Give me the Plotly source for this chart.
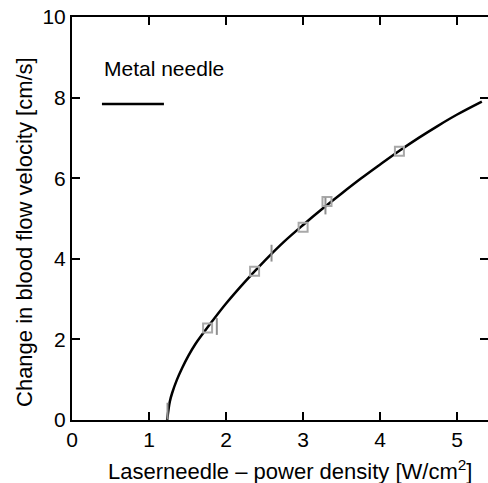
import plotly.graph_objects as go

# Fitted curve
curve_x = [1.235, 1.27, 1.30, 1.36, 1.43, 1.51, 1.6, 1.8, 2.0, 2.25, 2.5, 2.75, 3.0, 3.25, 3.5, 3.75, 4.0, 4.25, 4.5, 4.75, 5.0, 5.32]
curve_y = [0.0, 0.46, 0.67, 0.99, 1.29, 1.59, 1.88, 2.4, 2.89, 3.44, 3.95, 4.42, 4.84, 5.24, 5.62, 5.99, 6.34, 6.68, 7.0, 7.3, 7.58, 7.9]

# Square markers
sq_x = [1.76, 2.37, 3.0, 3.31, 4.25]
sq_y = [2.28, 3.69, 4.78, 5.42, 6.67]

# Vertical tick markers
bar_x = [1.24, 1.88, 2.59, 3.29]
bar_y = [0.22, 2.32, 4.14, 5.31]

xticks = [0, 1, 2, 3, 4, 5]
yticks = [0, 2, 4, 6, 8, 10]

FONT = "Liberation Sans, Arial, sans-serif"
TICKSIZE = 21
TITLESIZE = 22

fig = go.Figure()
fig.add_trace(go.Scatter(x=curve_x, y=curve_y, mode="lines", line=dict(color="black", width=2.5, shape="spline", smoothing=1),
                         showlegend=False, hoverinfo="skip"))
fig.add_trace(go.Scatter(x=sq_x, y=sq_y, mode="markers",
                         marker=dict(symbol="square-open", size=9, color="#a8a8a8", line=dict(width=2, color="#a8a8a8")),
                         showlegend=False))
fig.add_trace(go.Scatter(x=bar_x, y=bar_y, mode="markers",
                         marker=dict(symbol="line-ns-open", size=12, color="#909090", line=dict(width=2, color="#909090")),
                         showlegend=False))
# invisible trace to activate right-side tick axis
fig.add_trace(go.Scatter(x=[None], y=[None], yaxis="y2", showlegend=False))

axis_common = dict(showgrid=False, zeroline=False, ticks="inside", ticklen=8, tickwidth=2, tickcolor="black",
                   linecolor="black", linewidth=2, tickfont=dict(family=FONT, size=TICKSIZE, color="black"))

fig.update_layout(
    width=488, height=483,
    margin=dict(l=72, r=0, t=17, b=63),
    plot_bgcolor="white", paper_bgcolor="white",
    xaxis=dict(range=[0, 5.4], tickvals=xticks, showline=True, mirror="ticks", **axis_common),
    yaxis=dict(range=[0, 10], tickvals=yticks, showline=True, mirror=False, **axis_common),
    yaxis2=dict(range=[0, 10], tickvals=yticks, overlaying="y", side="right", showline=False,
                showticklabels=False, showgrid=False, zeroline=False, ticks="inside", ticklen=8, tickwidth=2,
                tickcolor="black"),
    showlegend=False,
)

# axis titles
fig.add_annotation(x=0.524, y=-0.124, xref="paper", yref="paper",
                   text="Laserneedle – power density [W/cm<sup>2</sup>]", showarrow=False,
                   xanchor="center", yanchor="middle", font=dict(family=FONT, size=TITLESIZE, color="black"))
fig.add_annotation(x=-0.1154, y=0.4665, xref="paper", yref="paper",
                   text="Change in blood flow velocity [cm/s]", showarrow=False, textangle=-90,
                   xanchor="center", yanchor="middle", font=dict(family=FONT, size=TITLESIZE, color="black"))

# legend
fig.add_annotation(x=0.072, y=0.873, xref="paper", yref="paper", text="Metal needle", showarrow=False,
                   xanchor="left", yanchor="middle", font=dict(family=FONT, size=TICKSIZE, color="black"))
fig.add_shape(type="line", xref="paper", yref="paper", x0=0.072, x1=0.221, y0=0.784, y1=0.784,
              line=dict(color="black", width=2.5))

fig.write_html("out.html", config={"displayModeBar": False},
               post_script="document.body.style.margin='0';document.body.style.overflow='hidden';")
